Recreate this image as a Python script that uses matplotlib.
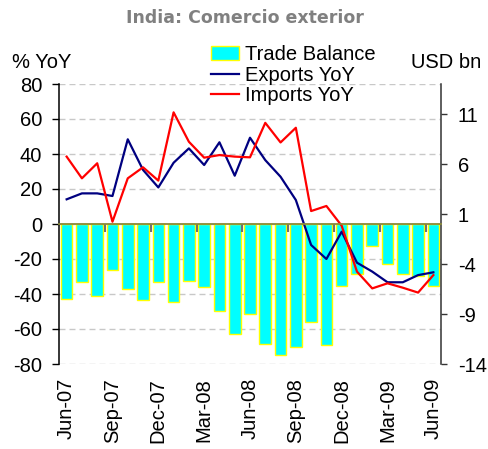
import matplotlib
matplotlib.use("Agg")
import matplotlib.pyplot as plt
import pandas as pd

# Datos (jun-07 a jun-09)
meses = list(pd.date_range("2007-06-01", periods=25, freq="MS").strftime("%b-%y"))
balanza = [-7.5, -5.8, -7.2, -4.6, -6.5, -7.6, -5.8, -7.8, -5.7, -6.3, -8.7, -11.0, -9.0,
           -12.0, -13.1, -12.3, -9.8, -12.1, -6.2, -5.0, -2.2, -4.0, -5.0, -5.2, -6.2]
exportaciones = [14.1, 17.5, 17.5, 16.0, 48.4, 30.9, 20.9, 35.0, 43.2, 33.7, 46.7, 27.6, 49.3,
                 36.5, 27.0, 13.7, -12.0, -20.0, -4.4, -22.1, -27.2, -33.3, -33.3, -29.2, -27.6]
importaciones = [38.5, 26.1, 34.7, 1.3, 26.1, 32.4, 24.8, 63.8, 47.0, 37.9, 39.4, 38.5, 38.1,
                 57.8, 46.6, 55.0, 7.4, 10.3, -1.0, -27.2, -36.8, -33.9, -36.4, -39.2, -29.2]
ticks_izq = [80, 60, 40, 20, 0, -20, -40, -60, -80]
ticks_der = [11, 6, 1, -4, -9, -14]

plt.rcParams["font.family"] = ["Liberation Sans", "DejaVu Sans"]
plt.rcParams["axes.unicode_minus"] = False
fs = 14.5

fig = plt.figure(figsize=(4.89, 4.49), dpi=100)
ax = fig.add_axes([59 / 489, 1 - 364 / 449, 382 / 489, 280 / 449])
ax_bar = ax.twinx()
ax_lin = ax.twinx()

x = list(range(len(meses)))

# eje izquierdo: escala % y rejilla
ax.set_xlim(-0.5, len(meses) - 0.5)
ax.set_ylim(-80, 80)
ax.set_yticks(ticks_izq)
ax.set_yticklabels([str(t) for t in ticks_izq])
ax.yaxis.grid(True, linestyle=(0, (4.3, 2.9)), color="#c8c8c8", linewidth=1)
ax.set_axisbelow(True)
ax.set_xticks(x[::3])
ax.set_xticklabels(meses[::3])
ax.set_xticks([i - 0.5 for i in range(3, len(meses), 3)], minor=True)
ax.tick_params(axis="x", which="major", length=0, pad=10, labelsize=fs, labelrotation=90)
ax.tick_params(axis="x", which="minor", length=0)
ax.tick_params(axis="y", direction="out", length=5, width=1, pad=7, labelsize=fs)
for s in ["top", "bottom", "right"]:
    ax.spines[s].set_visible(False)
ax.spines["left"].set_linewidth(1.1)

# eje derecho: balanza comercial
barras = ax_bar.bar(x, balanza, width=0.76, color="#00FFFF", edgecolor="#FFFF00",
                    linewidth=1, label="Trade Balance")
ax_bar.set_ylim(-14, 14)
ax_bar.set_yticks(ticks_der)
ax_bar.set_yticklabels([str(t) for t in ticks_der])
ax_bar.tick_params(axis="y", direction="out", length=4, width=1, pad=8, labelsize=fs,
                   color="#333333")
for s in ["top", "bottom", "left"]:
    ax_bar.spines[s].set_visible(False)
ax_bar.spines["right"].set_color("#333333")
ax_bar.spines["right"].set_linewidth(1.1)

# lineas
l1, = ax_lin.plot(x, exportaciones, color="#000080", linewidth=1.6, label="Exports YoY")
l2, = ax_lin.plot(x, importaciones, color="#FF0000", linewidth=1.6, label="Imports YoY")
ax_lin.set_ylim(-80, 80)
ax_lin.yaxis.set_visible(False)
ax_lin.xaxis.set_visible(True)
ax_lin.spines["bottom"].set_position(("data", 0))
ax_lin.spines["bottom"].set_color("#8a8a3a")
ax_lin.spines["bottom"].set_linewidth(1.3)
for s in ["top", "left", "right"]:
    ax_lin.spines[s].set_visible(False)
ax_lin.tick_params(axis="x", which="major", length=0, labelbottom=False)
ax_lin.tick_params(axis="x", which="minor", direction="out", length=6, width=1.5,
                   color="#707070", labelbottom=False)

fig.text(0.5, 1 - 18 / 449, "India: Comercio exterior", ha="center", va="center",
         fontsize=12.5, fontweight="bold", color="#808080", family="DejaVu Sans")
fig.text(12 / 489, 1 - 62 / 449, "% YoY", ha="left", va="center", fontsize=fs)
fig.text(481 / 489, 1 - 62 / 449, "USD bn", ha="right", va="center", fontsize=fs)

fig.legend([barras, l1, l2], ["Trade Balance", "Exports YoY", "Imports YoY"],
           loc="upper left", bbox_to_anchor=(211 / 489, 1 - 45 / 449), frameon=False,
           fontsize=fs, handlelength=1.4, handletextpad=0.3, labelspacing=0.08,
           borderpad=0, borderaxespad=0)

fig.savefig("out.png", dpi=100)
